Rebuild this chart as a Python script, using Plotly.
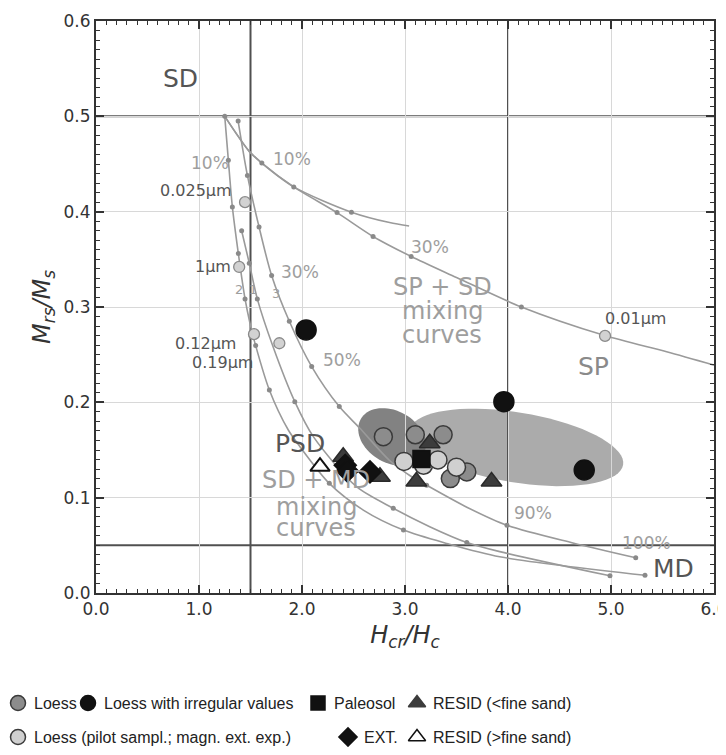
import numpy as np
import plotly.graph_objects as go

# ---------------- data ----------------
# SP + SD mixing curves
spsd_a_x = [1.25, 1.49, 1.61, 1.92, 2.34, 2.69, 3.06, 3.50, 4.13, 4.94, 5.54, 6.00]
spsd_a_y = [0.500, 0.463, 0.451, 0.426, 0.399, 0.374, 0.353, 0.331, 0.300, 0.270, 0.253, 0.239]
spsd_a_dot_x = [1.25, 1.61, 1.92, 2.34, 2.69, 3.06, 4.13]
spsd_a_dot_y = [0.500, 0.451, 0.426, 0.399, 0.374, 0.353, 0.300]
spsd_b_x = [1.25, 1.49, 1.61, 1.92, 2.48, 2.85, 3.04]
spsd_b_y = [0.500, 0.463, 0.451, 0.426, 0.3995, 0.3886, 0.385]
spsd_b_dot_x = [2.48]
spsd_b_dot_y = [0.3995]

# SD + MD mixing curves (1, 2, 3)
sdmd1_x = [1.414, 1.488, 1.566, 1.72, 1.93, 2.11, 2.53, 2.886, 3.24, 3.60, 3.92, 4.99]
sdmd1_y = [0.380, 0.346, 0.3085, 0.258, 0.2007, 0.164, 0.1115, 0.0889, 0.0696, 0.053, 0.0434, 0.018]
sdmd1_dot_x = [1.414, 1.488, 1.566, 1.93, 2.886, 3.60, 4.99]
sdmd1_dot_y = [0.380, 0.346, 0.3085, 0.2007, 0.0889, 0.053, 0.018]

sdmd2_x = [1.25, 1.285, 1.324, 1.382, 1.447, 1.495, 1.55, 1.683, 1.867, 1.98, 2.265, 2.595, 2.985, 3.405, 3.92, 5.33]
sdmd2_y = [0.500, 0.454, 0.405, 0.356, 0.3085, 0.283, 0.2595, 0.213, 0.171, 0.1535, 0.115, 0.087, 0.066, 0.052, 0.038, 0.0186]
sdmd2_dot_x = [1.285, 1.324, 1.382, 1.447, 1.55, 1.683, 2.265, 2.985, 5.33]
sdmd2_dot_y = [0.454, 0.405, 0.356, 0.3085, 0.2595, 0.213, 0.115, 0.066, 0.0186]

sdmd3_x = [1.38, 1.47, 1.583, 1.705, 1.877, 2.094, 2.362, 2.56, 2.85, 3.05, 3.21, 3.60, 3.99, 4.63, 5.24]
sdmd3_y = [0.495, 0.438, 0.384, 0.333, 0.285, 0.2375, 0.1955, 0.173, 0.139, 0.123, 0.113, 0.090, 0.071, 0.0525, 0.037]
sdmd3_dot_x = [1.38, 1.47, 1.583, 1.705, 1.877, 2.094, 2.362, 3.21, 3.99, 5.24]
sdmd3_dot_y = [0.495, 0.438, 0.384, 0.333, 0.285, 0.2375, 0.1955, 0.113, 0.071, 0.037]

# grain-size reference points on the curves
grain_x = [1.447, 1.39, 1.534, 1.78, 4.942]
grain_y = [0.410, 0.342, 0.2715, 0.262, 0.2697]

# samples
loess_x = [2.79, 3.10, 3.37, 3.44, 3.60]
loess_y = [0.164, 0.166, 0.166, 0.120, 0.127]
loess_irr_x = [2.04, 3.96, 4.74]
loess_irr_y = [0.276, 0.2007, 0.129]
pilot_x = [2.99, 3.18, 3.32, 3.50]
pilot_y = [0.138, 0.134, 0.1396, 0.132]
paleosol_x = [3.16]
paleosol_y = [0.1406]
ext_x = [2.42, 2.44, 2.66]
ext_y = [0.134, 0.128, 0.127]
resid_fine_x = [2.40, 2.757, 3.11, 3.24, 3.84]
resid_fine_y = [0.143, 0.122, 0.117, 0.157, 0.117]
resid_coarse_x = [2.175]
resid_coarse_y = [0.1326]

# ellipses (center x, center y, semi-axes in px, angle deg)
ell_light = dict(cx=4.083, cy=0.1527, a=108, b=35, ang=-9.3)
ell_dark = dict(cx=2.874, cy=0.1637, a=36, b=26, ang=-30)

XPIX, YPIX = 103.0, 953.3

FONT = "DejaVu Sans, Liberation Sans, Arial, sans-serif"
CURVE = "#9a9a9a"
DOT = "#8a8a8a"

fig = go.Figure()

def ellipse_path(e):
    t = np.linspace(0, 2 * np.pi, 73)
    th = np.radians(e["ang"])
    px = e["a"] * np.cos(t) * np.cos(th) - e["b"] * np.sin(t) * np.sin(th)
    py = e["a"] * np.cos(t) * np.sin(th) + e["b"] * np.sin(t) * np.cos(th)
    xs = e["cx"] + px / XPIX
    ys = e["cy"] + py / YPIX
    return "M " + " L ".join(f"{x:.4f},{y:.4f}" for x, y in zip(xs, ys)) + " Z"

shapes = [
    dict(type="path", path=ellipse_path(ell_light), xref="x", yref="y",
         fillcolor="#ababab", line=dict(width=0), layer="below"),
    dict(type="path", path=ellipse_path(ell_dark), xref="x", yref="y",
         fillcolor="#828282", line=dict(width=0), layer="below"),
]
for xv in [1.5, 4.0]:
    shapes.append(dict(type="line", xref="x", yref="y", x0=xv, x1=xv, y0=0, y1=0.6,
                       line=dict(color="#505050", width=2), layer="below"))
for yv in [0.5, 0.05]:
    shapes.append(dict(type="line", xref="x", yref="y", x0=0, x1=6, y0=yv, y1=yv,
                       line=dict(color="#505050", width=2), layer="below"))

def curve(x, y):
    fig.add_trace(go.Scatter(x=x, y=y, mode="lines", line=dict(color=CURVE, width=1.6, shape="spline", smoothing=0.8),
                             showlegend=False, hoverinfo="skip"))

def dots(x, y):
    fig.add_trace(go.Scatter(x=x, y=y, mode="markers", marker=dict(color=DOT, size=5),
                             showlegend=False, hoverinfo="skip"))

for cx_, cy_ in [(spsd_a_x, spsd_a_y), (spsd_b_x, spsd_b_y), (sdmd1_x, sdmd1_y), (sdmd2_x, sdmd2_y), (sdmd3_x, sdmd3_y)]:
    curve(cx_, cy_)
for dx_, dy_ in [(spsd_a_dot_x, spsd_a_dot_y), (spsd_b_dot_x, spsd_b_dot_y), (sdmd1_dot_x, sdmd1_dot_y),
                 (sdmd2_dot_x, sdmd2_dot_y), (sdmd3_dot_x, sdmd3_dot_y)]:
    dots(dx_, dy_)

fig.add_trace(go.Scatter(x=grain_x, y=grain_y, mode="markers",
                         marker=dict(color="#d2d2d2", size=11, line=dict(color="#8a8a8a", width=1.3)),
                         showlegend=False, hoverinfo="skip"))

def samples(x, y, name, symbol, fill, line_col, size, lw=1.5):
    fig.add_trace(go.Scatter(x=x, y=y, mode="markers", name=name,
                             marker=dict(symbol=symbol, color=fill, size=size, line=dict(color=line_col, width=lw)),
                             showlegend=False))

samples(loess_x, loess_y, "Loess", "circle", "#8c8c8c", "#3a3a3a", 18)
samples(pilot_x, pilot_y, "Loess (pilot sampl.; magn. ext. exp.)", "circle", "#d0d0d0", "#3a3a3a", 18)
samples(resid_fine_x, resid_fine_y, "RESID (<fine sand)", "triangle-up", "#3c3c3c", "#2a2a2a", 18)
samples(ext_x, ext_y, "EXT.", "diamond", "#111111", "#111111", 17)
samples(resid_coarse_x, resid_coarse_y, "RESID (>fine sand)", "triangle-up", "white", "#111111", 17, 2)
samples(paleosol_x, paleosol_y, "Paleosol", "square", "#111111", "#111111", 17)
samples(loess_irr_x, loess_irr_y, "Loess with irregular values", "circle", "#111111", "#111111", 20)

# ---------------- text labels ----------------
DARK = "#555555"
LIGHT = "#9e9e9e"
labels = [
    ("SD", 0.816, 0.540, 25, DARK),
    ("10%", 1.107, 0.451, 17, LIGHT),
    ("10%", 1.90, 0.455, 17, LIGHT),
    ("0.025µm", 0.966, 0.422, 16, DARK),
    ("1µm", 1.136, 0.342, 16, DARK),
    ("2", 1.391, 0.318, 13, LIGHT),
    ("1", 1.527, 0.318, 13, LIGHT),
    ("3", 1.748, 0.3145, 13, LIGHT),
    ("30%", 1.98, 0.337, 17, LIGHT),
    ("30%", 3.243, 0.363, 17, LIGHT),
    ("SP + SD", 3.364, 0.321, 24, LIGHT),
    ("mixing", 3.364, 0.296, 24, LIGHT),
    ("curves", 3.364, 0.2707, 24, LIGHT),
    ("0.12µm", 1.066, 0.262, 16, DARK),
    ("0.19µm", 1.228, 0.2417, 16, DARK),
    ("50%", 2.385, 0.2445, 17, LIGHT),
    ("0.01µm", 5.24, 0.288, 16, DARK),
    ("SP", 4.828, 0.2375, 25, "#8a8a8a"),
    ("PSD", 1.98, 0.157, 25, DARK),
    ("SD + MD", 2.136, 0.1186, 24, LIGHT),
    ("mixing", 2.14, 0.0906, 24, LIGHT),
    ("curves", 2.14, 0.0679, 24, LIGHT),
    ("90%", 4.243, 0.0836, 17, LIGHT),
    ("100%", 5.347, 0.0521, 17, LIGHT),
    ("MD", 5.61, 0.026, 25, DARK),
]
annotations = [dict(text=t, x=x, y=y, xref="x", yref="y", showarrow=False,
                    font=dict(family=FONT, size=s, color=c)) for t, x, y, s, c in labels]

# ---------------- figure geometry (page has an 8 px body margin) ----------------
OFF = 8
W, H = 710, 739

# ---------------- manual legend (screen-pixel overlay) ----------------
leg_rows = [703, 737]
leg_items = [
    (18, 0, "circle", "#8c8c8c", "#3a3a3a", 15, "Loess"),
    (88, 0, "circle", "#111111", "#111111", 15, "Loess with irregular values"),
    (318, 0, "square", "#111111", "#111111", 14, "Paleosol"),
    (417, 0, "triangle-up", "#3c3c3c", "#3c3c3c", 15, "RESID (<fine sand)"),
    (18, 1, "circle", "#d0d0d0", "#3a3a3a", 15, "Loess (pilot sampl.; magn. ext. exp.)"),
    (348, 1, "diamond", "#111111", "#111111", 14, "EXT."),
    (417, 1, "triangle-up", "white", "#111111", 15, "RESID (>fine sand)"),
]
for lx, row, sym, fc, lc, sz, txt in leg_items:
    fig.add_trace(go.Scatter(x=[lx], y=[leg_rows[row]], mode="markers", xaxis="x2", yaxis="y2",
                             marker=dict(symbol=sym, color=fc, size=sz, line=dict(color=lc, width=1.5)),
                             showlegend=False, hoverinfo="skip"))
    annotations.append(dict(text=txt, x=lx + 14, y=leg_rows[row], xref="x2", yref="y2", xanchor="left",
                            showarrow=False, font=dict(family="Liberation Sans, Arial, sans-serif", size=16, color="#222")))

LEG_H = 151
fig.update_layout(
    width=W, height=H, margin=dict(l=0, r=0, t=0, b=0, autoexpand=False),
    paper_bgcolor="white", plot_bgcolor="rgba(0,0,0,0)",
    shapes=shapes, annotations=annotations, showlegend=False,
    xaxis=dict(domain=[(96 - OFF) / W, (714 - OFF) / W], range=[0, 6], dtick=1, tickformat=".1f", automargin=False,
               ticklabeloverflow="allow",
               showgrid=True, gridcolor="#d8d8d8", gridwidth=1, zeroline=False,
               showline=True, linecolor="#333", linewidth=2, mirror="allticks",
               ticks="inside", ticklen=8, tickwidth=2, tickcolor="#333",
               minor=dict(dtick=0.1, ticks="inside", ticklen=4, tickwidth=1, tickcolor="#333", showgrid=False),
               tickfont=dict(family=FONT, size=17, color="#333"),
               title=dict(text="<i>H</i><sub><i>cr</i></sub><i>/H</i><sub><i>c</i></sub>",
                          font=dict(family=FONT, size=24, color="#333"), standoff=8)),
    yaxis=dict(domain=[(H + OFF - 593) / H, (H + OFF - 21) / H], range=[0, 0.6], dtick=0.1, tickformat=".1f",
               automargin=False, ticklabeloverflow="allow",
               showgrid=True, gridcolor="#d8d8d8", gridwidth=1, zeroline=False,
               showline=True, linecolor="#333", linewidth=2, mirror="allticks",
               ticks="inside", ticklen=8, tickwidth=2, tickcolor="#333",
               minor=dict(dtick=0.01, ticks="inside", ticklen=4, tickwidth=1, tickcolor="#333", showgrid=False),
               tickfont=dict(family=FONT, size=17, color="#333"),
               title=dict(text="<i>M</i><sub><i>rs</i></sub><i>/M</i><sub><i>s</i></sub>",
                          font=dict(family=FONT, size=24, color="#333"), standoff=6)),
    xaxis2=dict(domain=[0, 1], range=[OFF, OFF + W], visible=False, fixedrange=True, automargin=False),
    yaxis2=dict(domain=[0, LEG_H / H], range=[H + OFF, H + OFF - LEG_H], visible=False, fixedrange=True,
                automargin=False),
)

fig.write_html("out.html")
